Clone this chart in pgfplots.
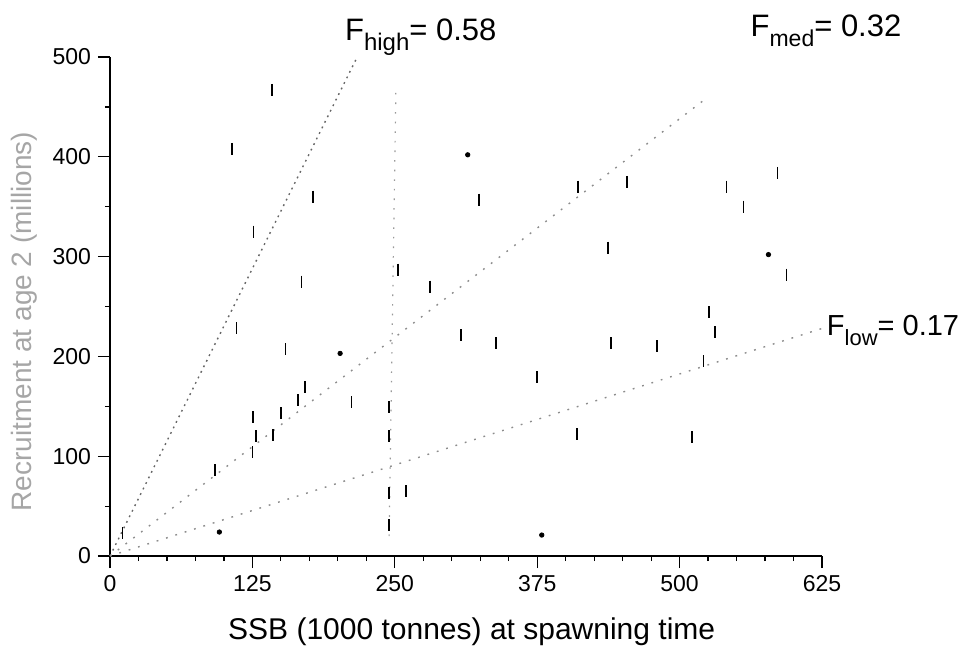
\documentclass[border=0pt]{standalone}
\usepackage{pgfplots}
\pgfplotsset{compat=1.18}
\usepackage{fontspec}
\setmainfont{Liberation Sans}
\pgfplotstableread{
x y
11 23
92 86
125 104
125.5 139
128 120
143 121
150 143
165 156
171 169
154 207
111 228
212 154
245 149
245 120
245 63
260 65
245 31
281 270
308 221
339 213
375 179
168 275
142 467
107 408
178 360
126 325
253 287
324 357
411 370
454 375
541 370
586 384
556 350
437 309
594 282
440 213
480 210
526 244
531 224
521 195
410 122
511 119
}\bars
\pgfplotstableread{
x y
96 24
202 203
314 402
578 302
379 21
}\dots
\begin{document}
\begin{tikzpicture}
\begin{axis}[
  scale only axis, width=356pt, height=249.5pt,
  xmin=0, xmax=625, ymin=0, ymax=500,
  axis x line*=bottom, axis y line*=left,
  xtick={0,125,...,625}, ytick={0,100,...,500},
  minor x tick num=4, minor y tick num=1,
  tick align=outside, major tick length=6pt, minor tick length=2.5pt,
  tick style={black, line width=0.6pt},
  axis line style={line width=0.7pt},
  ticklabel style={font=\fontsize{11.5}{12}\selectfont},
  /pgf/number format/assume math mode=true,
  xlabel={SSB (1000 tonnes) at spawning time},
  xlabel style={font=\fontsize{15}{16}\selectfont, at={(axis description cs:0.508,-0.152)}, anchor=center},
  ylabel={Recruitment at age 2 (millions)},
  ylabel style={font=\fontsize{14}{15}\selectfont, text=black!35, at={(axis description cs:-0.12,0.47)}, anchor=center},
  clip=false,
]
\addplot[black!60, dash pattern=on 0.9pt off 2.2pt, line width=0.7pt] coordinates {(0,0) (217,500)};
\addplot[black!45, dash pattern=on 0.9pt off 4pt, line width=0.7pt] coordinates {(0,0) (525,460)};
\addplot[black!45, dash pattern=on 0.9pt off 4pt, line width=0.7pt] coordinates {(0,0) (625,228)};
\addplot[black!40, dash pattern=on 0.8pt off 4pt, line width=0.6pt] coordinates {(245,20) (251,470)};
\addplot[only marks, mark=|, mark size=3pt, mark options={line width=0.8pt}] table[x=x,y=y] {\bars};
\addplot[only marks, mark=*, mark size=1.1pt] table[x=x,y=y] {\dots};
\node[anchor=base west, inner sep=0] at (axis cs:206,517) {\fontsize{15.5}{16}\selectfont F\raisebox{-5pt}{\fontsize{12}{12}\selectfont high}= 0.58};
\node[anchor=base west, inner sep=0] at (axis cs:562,521) {\fontsize{15.5}{16}\selectfont F\raisebox{-5pt}{\fontsize{11.5}{12}\selectfont med}= 0.32};
\node[anchor=base west, inner sep=0] at (axis cs:629,221) {\fontsize{14.5}{15}\selectfont F\raisebox{-5pt}{\fontsize{11}{12}\selectfont low}= 0.17};
\coordinate (bl) at (rel axis cs:0,0);
\coordinate (tr) at (rel axis cs:1,1);
\end{axis}
\pgfresetboundingbox
\useasboundingbox ([shift={(-55pt,-51pt)}]bl) rectangle ([shift={(73pt,28.5pt)}]tr);
\end{tikzpicture}
\end{document}
